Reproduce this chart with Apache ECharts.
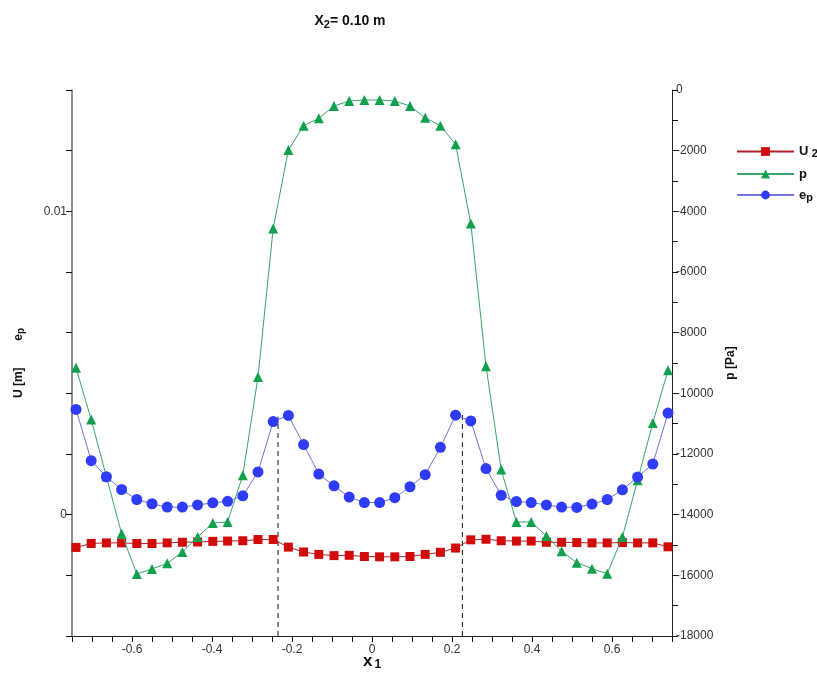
<!DOCTYPE html>
<html>
<head>
<meta charset="utf-8">
<script src="https://cdn.jsdelivr.net/npm/echarts@6/dist/echarts.min.js"></script>
<style>
  html, body { margin: 0; padding: 0; background: #fff; }
  #chart { width: 817px; height: 678px; }
</style>
</head>
<body>
<div id="chart"></div>
<script>
// x1 positions of the sampled points
const x1 = [-0.740, -0.702, -0.664, -0.626, -0.588, -0.550, -0.512, -0.474, -0.436, -0.398,
            -0.361, -0.323, -0.285, -0.247, -0.209, -0.171, -0.133, -0.095, -0.057, -0.019,
             0.019,  0.057,  0.095,  0.133,  0.171,  0.209,  0.247,  0.285,  0.323,  0.361,
             0.398,  0.436,  0.474,  0.512,  0.550,  0.588,  0.626,  0.664,  0.702,  0.740];

// U2 [m] (left axis)
const u2 = [-0.00108, -0.00095, -0.00093, -0.00093, -0.00095, -0.00095, -0.00093, -0.00091, -0.00090, -0.00088,
            -0.00087, -0.00086, -0.00082, -0.00082, -0.00107, -0.00123, -0.00131, -0.00135, -0.00134, -0.00138,
            -0.00139, -0.00139, -0.00138, -0.00131, -0.00124, -0.00110, -0.00083, -0.00081, -0.00086, -0.00087,
            -0.00087, -0.00091, -0.00091, -0.00092, -0.00093, -0.00093, -0.00092, -0.00093, -0.00093, -0.00106];

// p [Pa] (right axis)
const p = [-9160, -10865, -12745, -14625, -15955, -15790, -15604, -15230, -14735, -14274,
           -14241, -12701, -9458, -4563, -1979, -1178, -934, -528, -363, -330,
           -330, -363, -528, -914, -1178, -1791, -4398, -9105, -12513, -14241,
           -14241, -14703, -15208, -15582, -15780, -15945, -14735, -12866, -10975, -9237];

// e_p (left axis)
const ep = [0.00347, 0.00178, 0.00125, 0.00083, 0.00050, 0.00036, 0.00025, 0.00025, 0.00032, 0.00039,
            0.00044, 0.00062, 0.00141, 0.00307, 0.00327, 0.00231, 0.00134, 0.00095, 0.00058, 0.00040,
            0.00040, 0.00056, 0.00092, 0.00132, 0.00222, 0.00328, 0.00309, 0.00152, 0.00064, 0.00043,
            0.00040, 0.00032, 0.00025, 0.00024, 0.00035, 0.00050, 0.00082, 0.00124, 0.00167, 0.00335];

// dashed verticals: x position and the height (left axis) where they stop
const dashX = [-0.235, 0.226];
const dashTop = [0.00323, 0.00334];

const xTickLabels = [-0.6, -0.4, -0.2, 0, 0.2, 0.4, 0.6];
const leftTickLabels = [0, 0.01];

const labelFont = "'Liberation Sans', Arial, sans-serif";
const near = (a, b) => Math.abs(a - b) < 1e-9;

const chart = echarts.init(document.getElementById('chart'));

const tick = { show: true, inside: false, length: 6, lineStyle: { color: '#111' } };

const dashSeries = dashX.map((x, i) => ({
  type: 'line',
  yAxisIndex: 0,
  data: [[x, -0.004], [x, dashTop[i]]],
  symbol: 'none',
  silent: true,
  z: 1,
  lineStyle: { color: '#111', width: 1, type: [5, 4] }
}));

const option = {
  animation: false,
  backgroundColor: '#fff',
  title: {
    text: 'X{s|2}= 0.10 m',
    left: 345,
    top: 8,
    textAlign: 'center',
    textStyle: {
      fontFamily: "'Liberation Sans Narrow', 'Arial Narrow', sans-serif",
      fontSize: 14,
      fontWeight: 'bold',
      color: '#111',
      rich: {
        s: { fontSize: 11, fontWeight: 'bold', verticalAlign: 'bottom', padding: [6, 0, 0, 0],
             fontFamily: "'Liberation Sans Narrow', 'Arial Narrow', sans-serif" }
      }
    }
  },
  legend: {
    orient: 'vertical',
    left: 731,
    top: 140,
    itemWidth: 57,
    itemHeight: 11,
    itemGap: 8,
    data: ['U2', 'p', 'ep'],
    formatter: name => ({ U2: '{a|U} {s|2}', p: '{a|p}', ep: '{a|e}{s|p}' })[name],
    textStyle: {
      color: '#111',
      rich: {
        a: { fontSize: 13, fontWeight: 'bold', fontFamily: labelFont },
        s: { fontSize: 11, fontWeight: 'bold', fontFamily: labelFont, padding: [5, 0, 0, 0] }
      }
    }
  },
  grid: { left: 72, right: 145, top: 90, bottom: 42, containLabel: false, outerBoundsMode: 'none' },
  xAxis: {
    type: 'value',
    min: -0.75, max: 0.75, interval: 0.05,
    position: 'bottom',
    name: 'x{s|1}',
    nameLocation: 'middle',
    nameGap: 15,
    nameMoveOverlap: false,
    nameTextStyle: {
      fontSize: 17, fontWeight: 'bold', color: '#111', fontFamily: labelFont,
      rich: { s: { fontSize: 12, fontWeight: 'bold', padding: [8, 0, 0, 2], fontFamily: labelFont } }
    },
    splitLine: { show: false },
    axisLine: { onZero: false, lineStyle: { color: '#222' } },
    axisTick: tick,
    axisLabel: {
      color: '#333', fontSize: 12, fontFamily: labelFont, margin: 8,
      formatter: v => {
        const hit = xTickLabels.find(t => near(t, v));
        return hit === undefined ? '' : String(hit);
      }
    }
  },
  yAxis: [
    {
      type: 'value',
      min: -0.004, max: 0.014, interval: 0.002,
      position: 'left',
      name: 'U [m]        e{s|p}',
      nameLocation: 'middle',
      nameRotate: 90,
      nameGap: 46,
      nameTextStyle: {
        fontSize: 12, fontWeight: 'bold', color: '#111', fontFamily: labelFont,
        rich: { s: { fontSize: 10, fontWeight: 'bold', fontFamily: labelFont, padding: [4, 0, 0, 0] } }
      },
      splitLine: { show: false },
      axisLine: { show: true, onZero: false, lineStyle: { color: '#666', width: 1.5 } },
      axisTick: tick,
      axisLabel: {
        color: '#333', fontSize: 12, fontFamily: labelFont, margin: 5,
        formatter: v => {
          const hit = leftTickLabels.find(t => near(t, v));
          return hit === undefined ? '' : String(hit);
        }
      }
    },
    {
      type: 'value',
      min: -18000, max: 0, interval: 1000,
      position: 'right',
      name: 'p [Pa]',
      nameLocation: 'middle',
      nameRotate: 90,
      nameGap: 50,
      nameTextStyle: { fontSize: 12, fontWeight: 'bold', color: '#111', fontFamily: labelFont },
      splitLine: { show: false },
      axisLine: { show: true, onZero: false, lineStyle: { color: '#222' } },
      axisTick: tick,
      axisLabel: {
        color: '#333', fontSize: 12, fontFamily: labelFont, margin: 4,
        formatter: v => (Math.round(v) % 2000 === 0 ? String(Math.round(v)) : '')
      }
    }
  ],
  series: [
    ...dashSeries,
    {
      name: 'U2',
      type: 'line',
      yAxisIndex: 0,
      data: x1.map((x, i) => [x, u2[i]]),
      symbol: 'rect',
      symbolSize: 9,
      z: 3,
      lineStyle: { color: '#b0202a', width: 1 },
      itemStyle: { color: '#d10a0a' }
    },
    {
      name: 'p',
      type: 'line',
      yAxisIndex: 1,
      data: x1.map((x, i) => [x, p[i]]),
      symbol: 'triangle',
      symbolSize: 10,
      z: 4,
      lineStyle: { color: '#3aa56a', width: 1 },
      itemStyle: { color: '#11a04e' }
    },
    {
      name: 'ep',
      type: 'line',
      yAxisIndex: 0,
      data: x1.map((x, i) => [x, ep[i]]),
      symbol: 'circle',
      symbolSize: 11,
      z: 5,
      lineStyle: { color: '#7373e0', width: 1 },
      itemStyle: { color: '#2f3cf5' }
    }
  ]
};

chart.setOption(option);
</script>
</body>
</html>
